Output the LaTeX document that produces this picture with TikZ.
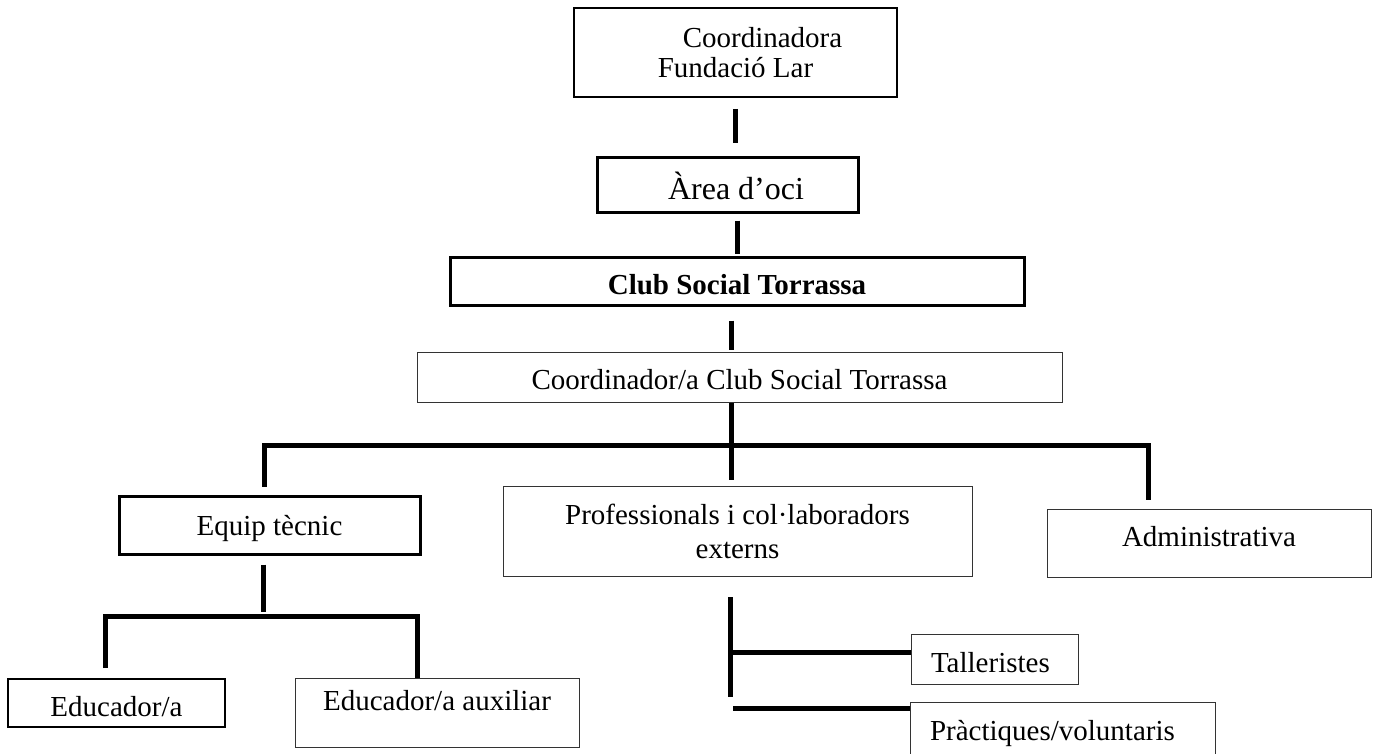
\documentclass[tikz,border=0pt]{standalone}
\usepackage{fontspec}
\setmainfont{Liberation Serif}
\usepackage{tikz}

\begin{document}
\begin{tikzpicture}[x=1pt, y=-1pt,
        every node/.style={font=\fontsize{29}{30}\selectfont, inner sep=0pt},
        box/.style={draw=black!80, line width=1pt},
        boxmid/.style={draw=black, line width=1.8pt},
        boxthick/.style={draw=black, line width=3pt},
        conn/.style={line width=5pt}]
        \clip (0,0) rectangle (1378,753);
        \fill [fill=white](0,0) rectangle (1378,753);

        \node[boxmid, minimum width=323pt, minimum height=89pt, align=center] (fund) at (735.5,52.5) {\hspace*{54pt}Coordinadora\\Fundació Lar};
        \node[boxthick, minimum width=261pt, text height=42pt, text depth=13pt, font=\fontsize{32}{33}\selectfont] (area) at (727.5,184.5) {\hspace*{17pt}Àrea d’oci};
        \node[boxthick, minimum width=574pt, text height=37pt, text depth=11pt, font=\fontsize{29}{30}\selectfont\bfseries] (club) at (737,281) {Club Social Torrassa};
        \node[box, minimum width=645pt, text height=37pt, text depth=13pt] (cst) at (739.5,377) {Coordinador/a Club Social Torrassa};

        \node[boxthick, minimum width=301pt, text height=39pt, text depth=19pt] (equip) at (269.5,525) {Equip tècnic};
        \node[box, minimum width=469pt, minimum height=90pt, align=center] (prof) at (737.5,531) {Professionals i col·laboradors\\[4pt]externs};
        \node[box, minimum width=324pt, text height=37pt, text depth=31pt] (admin) at (1209,543) {Administrativa};

        \node[boxmid, minimum width=217pt, text height=37pt, text depth=11pt] (edu) at (116.5,703) {Educador/a};
        \node[box, minimum width=284pt, text height=32pt, text depth=37pt] (eduaux) at (437,712.5) {Educador/a auxiliar};

        \node[box, text width=127pt, inner xsep=20pt, text height=38pt, text depth=12pt, align=left] (tall) at (994.5,659) {Talleristes};
        \node[box, text width=265pt, inner xsep=20pt, text height=38pt, text depth=30pt, align=left] (prac) at (1062.5,736) {Pràctiques/voluntaris};

        % vertical chain
        \coordinate (bar) at (731,445);
        \draw [conn, shorten <=11pt, shorten >=13pt](fund.south) -- (fund.south |- area.north);
        \draw [conn, shorten <=7pt, shorten >=2pt](club.north |- area.south) -- (club.north);
        \draw [conn, shorten <=14pt, shorten >=2pt](bar |- club.south) -- (bar |- cst.north);
        \draw [conn, shorten >=6pt](bar |- cst.south) -- (bar |- prof.north);
        \draw [conn]([xshift=-5.5pt,yshift=8pt]equip.north) |- (bar) -| ([xshift=-61pt,yshift=9pt]admin.north);

        % equip tecnic
        \coordinate (ebar) at (263,616);
        \draw [conn, shorten <=9pt, shorten >=4pt](ebar |- equip.south) -- (ebar);
        \draw [conn]([xshift=-11.5pt,yshift=10pt]edu.north) |- (ebar) -| ([xshift=-20pt]eduaux.north);

        % professionals
        \coordinate (pline) at (730,597);
        \draw [conn](pline) -- ++(0,100);
        \draw [conn]([yshift=7pt]tall.west) -- ++(-181,0);
        \draw [conn]([yshift=-7pt]prac.north west) -- ++(-177,0);
\end{tikzpicture}
\end{document}
